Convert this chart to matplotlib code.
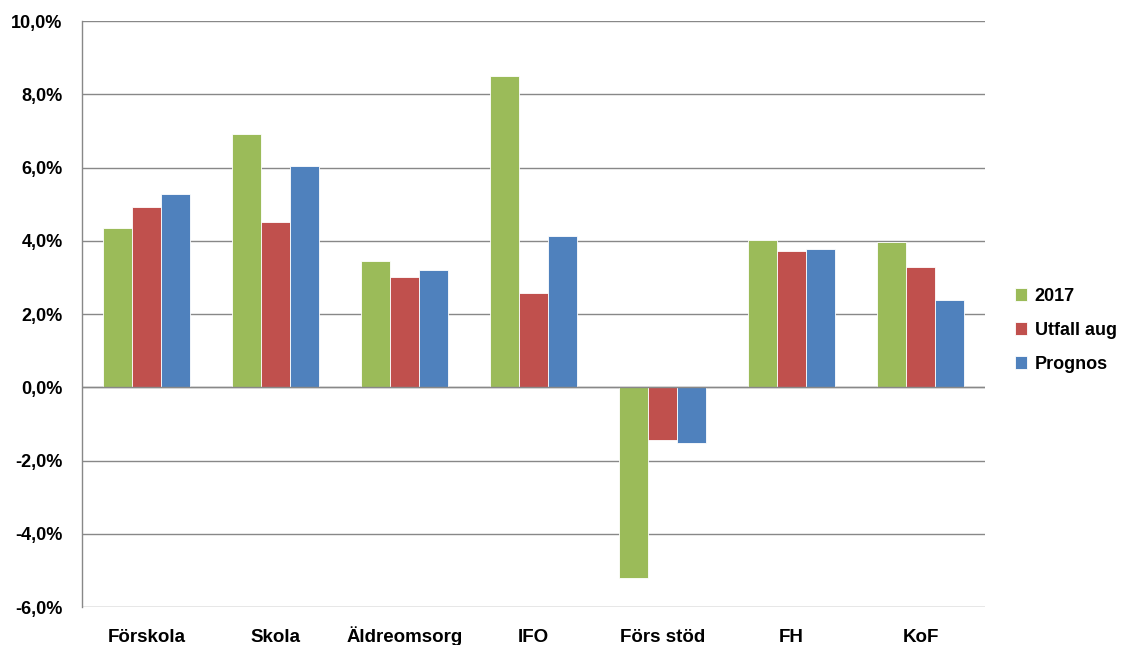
import numpy as np
import matplotlib.pyplot as plt
from matplotlib.ticker import FuncFormatter

plt.rcParams['font.family'] = ['Liberation Sans', 'DejaVu Sans']
plt.rcParams['font.weight'] = 'bold'

categories = ['Förskola', 'Skola', 'Äldreomsorg', 'IFO', 'Förs stöd', 'FH', 'KoF']
series_names = ['2017', 'Utfall aug', 'Prognos']
vals_2017 = [4.35, 6.92, 3.45, 8.5, -5.2, 4.02, 3.98]
vals_utfall = [4.93, 4.52, 3.0, 2.58, -1.45, 3.73, 3.28]
vals_prognos = [5.28, 6.03, 3.19, 4.14, -1.53, 3.77, 2.38]
colors = ['#9bbb59', '#c0504d', '#4f81bd']

fig = plt.figure(figsize=(11.21, 6.45), dpi=100)
ax = fig.add_axes([0.0731, 0.0589, 0.8056, 0.9085])

x = np.arange(len(categories))
w = 0.225
for i, (vals, name) in enumerate(zip([vals_2017, vals_utfall, vals_prognos], series_names)):
    ax.bar(x + (i - 1) * w, vals, width=w, color=colors[i], label=name,
           edgecolor='white', linewidth=0.6, zorder=3)

ax.set_xlim(-0.5, len(categories) - 0.5)
ax.set_ylim(-6, 10)
ax.set_yticks(np.arange(-6, 11, 2))
ax.yaxis.set_major_formatter(FuncFormatter(lambda v, p: f'{v:.1f}%'.replace('.', ',')))
ax.grid(axis='y', color='#888888', linewidth=1.0, zorder=0)
ax.axhline(0, color='#888888', linewidth=1.0, zorder=4)

ax.set_xticks(x)
ax.set_xticklabels(categories, va='baseline', fontweight='bold')
ax.tick_params(axis='x', length=0, pad=25, labelsize=13.5)
ax.tick_params(axis='y', length=0, pad=14, labelsize=13)
for lbl in ax.get_yticklabels():
    lbl.set_fontweight('bold')

for side in ['top', 'right', 'bottom']:
    ax.spines[side].set_visible(False)
ax.spines['left'].set_color('#888888')
ax.spines['left'].set_linewidth(1.0)

ax.legend(loc='center left', bbox_to_anchor=(1.015, 0.472), frameon=False,
          prop={'size': 13, 'weight': 'bold'}, handlelength=0.7,
          handleheight=0.7, handletextpad=0.4, labelspacing=0.95)

fig.savefig('out.png', dpi=100)
